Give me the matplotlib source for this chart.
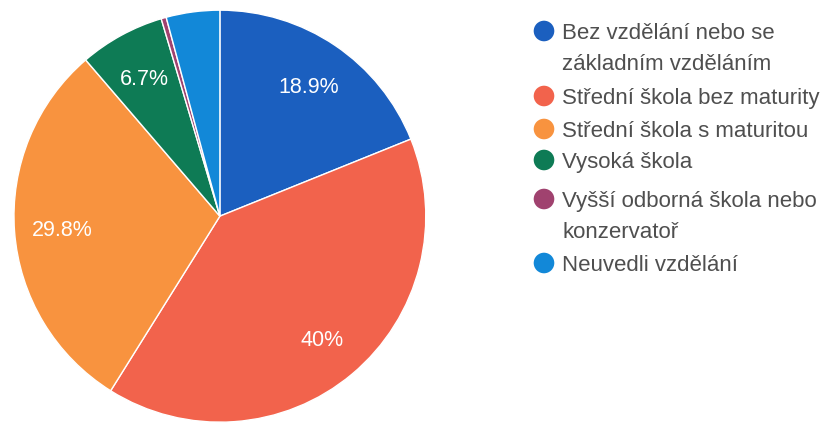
import matplotlib
matplotlib.use("Agg")
import matplotlib.pyplot as plt
import numpy as np

categories = [
    "Bez vzdělání nebo se\nzákladním vzděláním",
    "Střední škola bez maturity",
    "Střední škola s maturitou",
    "Vysoká škola",
    "Vyšší odborná škola nebo\nkonzervatoř",
    "Neuvedli vzdělání",
]
values = [18.9, 40.0, 29.8, 6.7, 0.4, 4.2]
pct_labels = ["18.9%", "40%", "29.8%", "6.7%", "", ""]
colors = ["#1b5fbf", "#f2634c", "#f8933f", "#0e7b55", "#a0426f", "#1288d8"]

plt.rcParams['font.family'] = ['Liberation Sans', 'DejaVu Sans']

fig = plt.figure(figsize=(8.22, 4.23), dpi=100)
ax = fig.add_axes([0.017, 0.002, 0.501, 0.974])
wedges, _ = ax.pie(values, colors=colors, startangle=90, counterclock=False,
                   wedgeprops=dict(edgecolor="white", linewidth=1.0))
ax.set_aspect('auto')
cum = np.cumsum([0] + values[:-1])
for v, c, lab in zip(values, cum, pct_labels):
    if not lab:
        continue
    ang = np.deg2rad(90 - (c + v / 2) * 3.6)
    r = 0.77
    ax.text(r * np.cos(ang), r * np.sin(ang) - 0.012, lab, ha='center', va='center',
            color='white', fontsize=15.5)
ax.set_xlim(-1, 1)
ax.set_ylim(-1, 1)
ax.axis('off')

# legend drawn in a pixel-coordinate overlay
lax = fig.add_axes([0, 0, 1, 1])
lax.set_xlim(0, 822)
lax.set_ylim(423, 0)
lax.axis('off')
entry_baselines = [39, 104, 137, 168, 207, 271]
line_step = 31
for cat, col, yb in zip(categories, colors, entry_baselines):
    lax.scatter([544], [yb - 8], s=220, color=col, edgecolors='none')
    for i, line in enumerate(cat.split("\n")):
        lax.text(562, yb + i * line_step, line, ha='left', va='baseline',
                 fontsize=16, color='#4f4f4f')

fig.savefig("out.png", dpi=100)
